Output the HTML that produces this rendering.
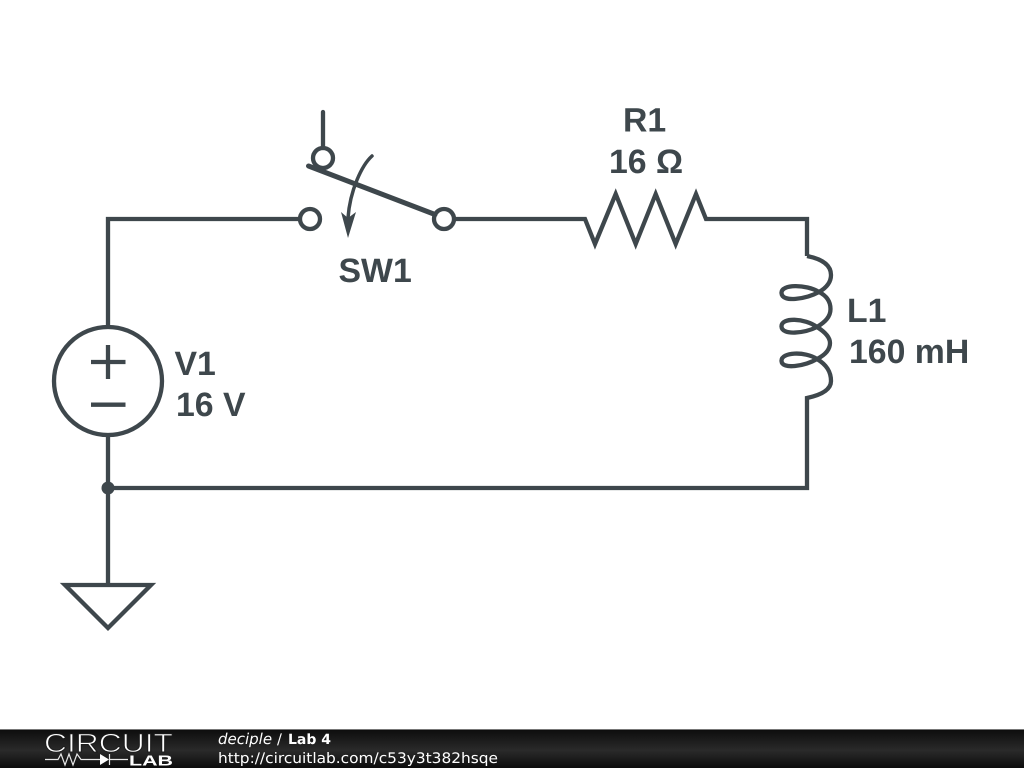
<!DOCTYPE html>
<html>
<head>
<meta charset="utf-8">
<style>
html,body{margin:0;padding:0;width:1024px;height:768px;background:#fff;overflow:hidden}
svg{display:block}
text{text-rendering:geometricPrecision}
</style>
</head>
<body>
<svg width="1024" height="768" viewBox="0 0 1024 768" xmlns="http://www.w3.org/2000/svg">
<defs>
<linearGradient id="bar" x1="0" y1="0" x2="0" y2="1">
<stop offset="0" stop-color="#0c0c0c"/>
<stop offset="0.55" stop-color="#2a2a2a"/>
<stop offset="1" stop-color="#0c0c0c"/>
</linearGradient>
</defs>
<rect width="1024" height="768" fill="#fff"/>
<g fill="none" stroke="#3e474c" stroke-width="4.300">
<path d="M108 326V219H300"/>
<path d="M454 219H585L595 244L615.700 194L635.700 244L655.700 194L675.700 244L696 194L706 219H807V256"/>
<path d="M807 256C822 259 831 265 831 275C831 283 826 288 819 292C806 299 782 303 781.500 293C781 284 806 284 819 292C827 296 830.500 302 830.500 309C830.500 317 825 322 817 327C805 333 782 336 781.500 326.500C781 317 805 318 817 327C825 332 830 337 830 343C830 350 825 355 817 359C805 366 782 370 781.500 361C781 352 805 351 817 359C827 365 831 372 831 381C831 390 821 395 807 398V488H108"/>
<path d="M108 435V585"/>
<path d="M65 585H151L108 628Z"/>
<circle cx="108" cy="381" r="54"/>
<path d="M91 362H125.500M108 345V379M91 404.700H125.500"/>
<circle cx="310" cy="219" r="10"/>
<circle cx="444" cy="219" r="10"/>
<circle cx="323" cy="158" r="10"/>
<path d="M323 112V148" stroke-linecap="round"/>
<path d="M308.500 166L435 214.500" stroke-width="5" stroke-linecap="round"/>
<path d="M372 156C362 165 350 190 348 218" stroke-width="3.500" stroke-linecap="round"/>
</g>
<path d="M341 212L348 218L356 212L348 238Z" fill="#3e474c"/>
<circle cx="108" cy="488" r="6.500" fill="#3e474c"/>
<g font-family="'Liberation Sans',sans-serif" font-weight="700" font-size="33.800" fill="#3e474c">
<text x="623" y="131.500">R1</text>
<text x="609" y="173">16 Ω</text>
<text x="338.500" y="282">SW1</text>
<text x="847" y="322">L1</text>
<text x="849" y="363">160 mH</text>
<text x="174.500" y="375">V1</text>
<text x="176" y="416">16 V</text>
</g>
<rect x="0" y="729" width="1024" height="39" fill="url(#bar)"/>
<rect x="0" y="729" width="1024" height="1" fill="#777"/>
<text x="44" y="752" font-family="'Liberation Sans',sans-serif" font-size="26.500" fill="#fff" stroke="#1c1c1c" stroke-width="0.900" textLength="129" lengthAdjust="spacingAndGlyphs">CIRCUIT</text>
<text x="129" y="765.500" font-family="'Liberation Sans',sans-serif" font-weight="700" font-size="14.500" fill="#fff" textLength="44" lengthAdjust="spacingAndGlyphs">LAB</text>
<path d="M45 759.500H58L61 754L65 765L69 754L73 765L77 754L81 759.500H100M128 759.500H110M109.500 754V765" fill="none" stroke="#e8e8e8" stroke-width="1.200"/>
<path d="M100 754L109 759.500L100 765Z" fill="#fff"/>
<g font-family="'DejaVu Sans',sans-serif" font-size="14.500" fill="#fff">
<text x="218" y="744" font-style="italic" font-size="15">deciple</text>
<text x="277" y="744">/</text>
<text x="288" y="744" font-weight="700" font-size="14">Lab 4</text>
<text x="218" y="763" textLength="280" lengthAdjust="spacingAndGlyphs">http://circuitlab.com/c53y3t382hsqe</text>
</g>
</svg>
</body>
</html>
